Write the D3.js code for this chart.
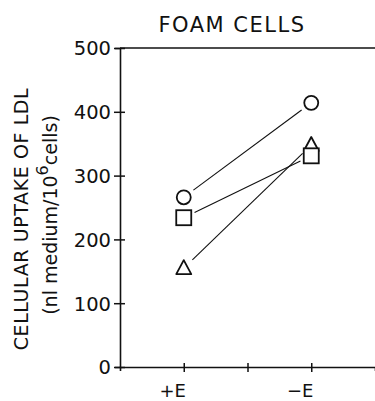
<!DOCTYPE html>
<html><head><meta charset="utf-8">
<script src="https://cdn.jsdelivr.net/npm/d3@7"></script>
<style>body{margin:0;background:#fff}svg{display:block}text{font-family:"DejaVu Sans",sans-serif;fill:#111}</style>
</head><body><svg id="c" width="375" height="401"></svg>
<script>
const categories = ["+E", "\u2212E"];
const categoryPos = [1, 3];
const xTicks = [1, 2, 3];
const yTicks = [0, 100, 200, 300, 400, 500];
const circleSeries = [266, 414];
const squareSeries = [234, 331];
const triangleSeries = [155, 348];

const svg = d3.select("#c");
const x = d3.scaleLinear().domain([0, 4]).range([120, 375]);
const y = d3.scaleLinear().domain([0, 500]).range([367, 48]);
const ink = "#111";

// frame top line
svg.append("line").attr("x1", x(0)).attr("x2", x(4)).attr("y1", y(500)).attr("y2", y(500))
  .attr("stroke", ink).attr("stroke-width", 1.3);

// y axis
const ya = svg.append("g").attr("transform", `translate(${x(0)},0)`)
  .call(d3.axisLeft(y).tickValues(yTicks).tickSize(5).tickPadding(4));
ya.select(".domain").attr("stroke", ink).attr("stroke-width", 1.6);
ya.selectAll(".tick line").attr("stroke", ink).attr("stroke-width", 1.5).attr("x2", 5).attr("x1", -6);
ya.selectAll(".tick text").style("font-size", "19.5px").attr("x", -9).attr("dy", "0.35em").style("fill", ink);

// x axis
const xa = svg.append("g").attr("transform", `translate(0,${y(0)})`)
  .call(d3.axisBottom(x).tickValues(xTicks).tickSize(4).tickFormat(""));
xa.select(".domain").attr("stroke", ink).attr("stroke-width", 1.6);
xa.selectAll(".tick line").attr("stroke", ink).attr("stroke-width", 1.5).attr("y1", -4).attr("y2", 5);

svg.selectAll(".xlab").data(categories).join("text").attr("class", "xlab")
  .attr("x", (d, i) => x(categoryPos[i]) - 11).attr("y", 397)
  .attr("text-anchor", "middle").style("font-size", "18px").text(d => d);

// title
svg.append("text").attr("x", 232).attr("y", 32).attr("text-anchor", "middle")
  .style("font-size", "21px").style("letter-spacing", "1.5px").text("FOAM CELLS");

// y labels
svg.append("text").attr("transform", "translate(28,219) rotate(-90)").attr("text-anchor", "middle")
  .style("font-size", "19px").style("letter-spacing", "0.6px").text("CELLULAR UPTAKE OF LDL");
const t2 = svg.append("text").attr("transform", "translate(57,215) rotate(-90)").attr("text-anchor", "middle")
  .style("font-size", "19px");
t2.append("tspan").text("(nl medium/10");
t2.append("tspan").attr("dy", -9).style("font-size", "16px").text("6");
t2.append("tspan").attr("dy", 9).text("cells)");

// connecting lines (shortened near markers)
const series = [circleSeries, squareSeries, triangleSeries];
series.forEach(s => {
  const x1 = x(categoryPos[0]), y1 = y(s[0]), x2 = x(categoryPos[1]), y2 = y(s[1]);
  const dx = x2 - x1, dy = y2 - y1, L = Math.hypot(dx, dy), g = 12;
  svg.append("line")
    .attr("x1", x1 + dx / L * g).attr("y1", y1 + dy / L * g)
    .attr("x2", x2 - dx / L * g).attr("y2", y2 - dy / L * g)
    .attr("stroke", ink).attr("stroke-width", 1.1);
});

// markers
svg.selectAll(".circ").data(circleSeries).join("circle").attr("class", "circ")
  .attr("cx", (d, i) => x(categoryPos[i])).attr("cy", d => y(d)).attr("r", 7)
  .attr("fill", "#fff").attr("stroke", ink).attr("stroke-width", 1.8);
svg.selectAll(".tri").data(triangleSeries).join("path").attr("class", "tri")
  .attr("d", (d, i) => { const cx = x(categoryPos[i]), cy = y(d);
    return `M${cx},${cy - 8}L${cx + 7.5},${cy + 6}L${cx - 7.5},${cy + 6}Z`; })
  .attr("fill", "#fff").attr("stroke", ink).attr("stroke-width", 1.8).attr("stroke-linejoin", "round");
svg.selectAll(".sq").data(squareSeries).join("rect").attr("class", "sq")
  .attr("x", (d, i) => x(categoryPos[i]) - 7.5).attr("y", d => y(d) - 7.5)
  .attr("width", 15).attr("height", 15)
  .attr("fill", "#fff").attr("stroke", ink).attr("stroke-width", 1.8);
</script></body></html>
